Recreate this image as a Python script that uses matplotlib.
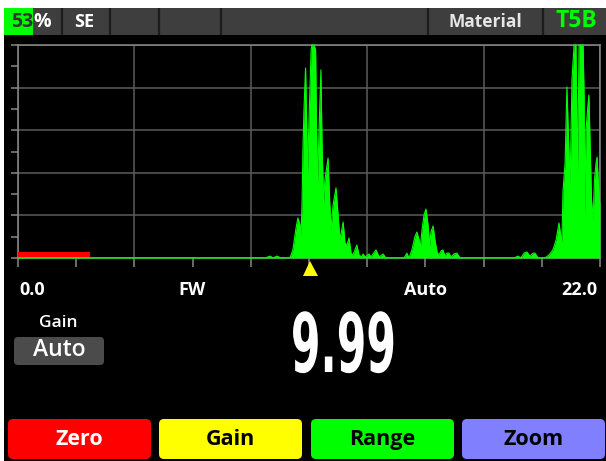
import numpy as np
import matplotlib
matplotlib.use("Agg")
import matplotlib.pyplot as plt
from matplotlib.patches import Rectangle, FancyBboxPatch
from matplotlib.patheffects import AbstractPathEffect
from matplotlib.transforms import Affine2D

# ---------------- data ----------------
x_min, x_max = 0.0, 22.0
wave_x = [0.0, 9.34, 9.53, 9.64, 9.79, 9.94, 10.28, 10.39, 10.51, 10.58,
          10.66, 10.70, 10.74, 10.77, 10.81, 10.87, 10.91, 10.94, 11.00, 11.08,
          11.11, 11.19, 11.25, 11.28, 11.32, 11.38, 11.45, 11.49, 11.55, 11.60,
          11.72, 11.78, 11.83, 11.91, 12.02, 12.10, 12.17, 12.29, 12.36, 12.44,
          12.51, 12.59, 12.66, 12.81, 12.89, 13.00, 13.04, 13.12, 13.27, 13.34,
          13.53, 13.65, 13.80, 13.91, 14.59, 14.70, 14.78, 14.89, 15.01, 15.08,
          15.16, 15.21, 15.27, 15.35, 15.42, 15.50, 15.56, 15.61, 15.69, 15.76,
          15.84, 15.91, 15.99, 16.06, 16.14, 16.21, 16.29, 16.37, 16.48, 16.59,
          16.71, 18.75, 18.90, 19.01, 19.13, 19.24, 19.35, 19.47, 19.54, 19.66,
          19.92, 20.07, 20.22, 20.34, 20.45, 20.51, 20.56, 20.60, 20.68, 20.75,
          20.81, 20.87, 20.94, 21.02, 21.09, 21.15, 21.21, 21.36, 21.40, 21.42,
          21.47, 21.53, 21.58, 21.64, 21.68, 21.74, 21.79, 21.85, 21.89, 21.92,
          21.98, 22.0]
wave_amp = [0, 0, 0.9, 0, 0.9, 0, 0, 3.8, 14.1, 18.8,
            15.5, 10.8, 27.2, 50.7, 69.5, 89.2, 64.8, 38.0, 64.8, 97.7,
            100, 100, 97.7, 64.8, 34.3, 60.1, 88.3, 55.4, 25.8, 36.6,
            46.9, 27.2, 13.1, 24.9, 32.9, 20.2, 8.5, 16.9, 7.0, 6.1,
            9.4, 2.3, 1.4, 6.1, 1.4, 0.5, 1.9, 0.5, 1.9, 0.5,
            3.8, 0.5, 1.9, 0, 0, 2.3, 0, 3.8, 10.3, 12.2,
            8.5, 4.7, 13.1, 20.2, 23.0, 15.5, 5.6, 12.2, 15.0, 8.5,
            2.8, 1.4, 3.3, 3.8, 0.9, 2.3, 2.3, 0.5, 1.9, 2.3,
            0, 0, 0.9, 0, 2.3, 2.8, 0.9, 2.3, 2.3, 0,
            0, 1.4, 3.8, 8.5, 16.4, 10.8, 7.5, 31.0, 44.6, 80.3,
            55.4, 34.3, 83.6, 100, 100, 39.9, 100, 100, 74.2, 19.2,
            60.1, 69.5, 76.5, 46.0, 27.2, 17.8, 36.6, 44.6, 47.4, 39.0,
            25.8, 25.8]
blank_end = 2.72      # red zero/blank bar end (mm)
blank_height = 2.7    # %
gate_pos = 11.02      # yellow marker position (mm)

battery_value = "53"
battery_unit = "%"
status_labels = ["SE", "Material", "T5B"]
scale_labels = ["0.0", "FW", "Auto", "22.0"]
gain_label = "Gain"
gain_value = "Auto"
reading = "9.99"
button_labels = ["Zero", "Gain", "Range", "Zoom"]
button_colors = ["#ff0000", "#ffff00", "#00ff00", "#8080ff"]
button_text_colors = ["white", "black", "black", "black"]

# ---------------- figure ----------------
W, H = 606, 461
fig = plt.figure(figsize=(W / 100, H / 100), dpi=100, facecolor="white")
FONT = "Open Sans"

bg = fig.add_axes([0, 0, 1, 1], zorder=0)
bg.set_xlim(0, W)
bg.set_ylim(H, 0)
bg.axis("off")

# screen
bg.add_patch(Rectangle((4, 8), W - 4, H - 8, color="black", lw=0))

# top status bar
bg.add_patch(Rectangle((4, 8), W - 4, 27, color="#3e3e3e", lw=0))
bg.add_patch(Rectangle((4, 8), 29, 27, color="#00ff00", lw=0))
for sx in [62, 110, 159, 221, 428, 543]:
    bg.plot([sx, sx], [8, 35], color="#1c1c1c", lw=1.6, solid_capstyle="butt")

t53 = bg.text(11, 22, battery_value, color="#333333", fontsize=14, fontweight="bold",
              family=FONT, ha="left", va="center")
bg.annotate(battery_unit, xy=(1, 0.5), xycoords=t53, color="white", fontsize=14,
            fontweight="bold", family=FONT, ha="left", va="center")
bg.text(84, 22, status_labels[0], color="white", fontsize=13, fontweight="bold",
        family=FONT, ha="center", va="center")
bg.text(485, 22, status_labels[1], color="#e6e6e6", fontsize=12.5, fontweight="bold",
        family=FONT, ha="center", va="center")
bg.text(576, 21, status_labels[2], color="#00ff00", fontsize=16.5, fontweight="bold",
        family=FONT, ha="center", va="center")

# scale labels
lab_y = 290
fs_lab = 13
bg.text(19, lab_y, scale_labels[0], color="white", fontsize=fs_lab, fontweight="bold",
        family=FONT, ha="left", va="center")
bg.text(192, lab_y, scale_labels[1], color="white", fontsize=fs_lab, fontweight="bold",
        family=FONT, ha="center", va="center")
bg.text(426, lab_y, scale_labels[2], color="white", fontsize=fs_lab, fontweight="bold",
        family=FONT, ha="center", va="center")
bg.text(597, lab_y, scale_labels[3], color="white", fontsize=fs_lab, fontweight="bold",
        family=FONT, ha="right", va="center")

# gain box
bg.text(58, 323, gain_label, color="white", fontsize=12.5, family=FONT,
        fontweight="semibold", ha="center", va="center")
bg.add_patch(FancyBboxPatch((14, 337), 90, 28,
                            boxstyle="round,pad=0,rounding_size=4",
                            fc="#4b4b4b", ec="none"))
bg.text(59, 350, gain_value, color="white", fontsize=16.5, family=FONT,
        fontweight="semibold", ha="center", va="center")


# big reading (condensed via path effect)
class Condense(AbstractPathEffect):
    def __init__(self, sx, cx_data):
        super().__init__()
        self.sx = sx
        self.cx_data = cx_data

    def draw_path(self, renderer, gc, tpath, affine, rgbFace=None):
        cx = bg.transData.transform((self.cx_data, 0))[0]
        t = affine + Affine2D().translate(-cx, 0).scale(self.sx, 1.0).translate(cx, 0)
        renderer.draw_path(gc, tpath, t, rgbFace)


big = bg.text(343.5, 372, reading, color="white", fontsize=59, fontweight="bold",
              family="DejaVu Sans", ha="center", va="baseline")
big.set_path_effects([Condense(0.52, 343.5)])

# buttons
btn_x = [8, 159, 311, 462]
for bx, lab, c, tc in zip(btn_x, button_labels, button_colors, button_text_colors):
    bg.add_patch(FancyBboxPatch((bx, 419), 143, 40,
                                boxstyle="round,pad=0,rounding_size=5",
                                fc=c, ec="none"))
    bg.text(bx + 71.5, 439, lab, color=tc, fontsize=15.5, fontweight="bold",
            family=FONT, ha="center", va="center")

# ---------------- A-scan plot ----------------
left, right, top, bottom = 18, 600, 45, 258
ax = fig.add_axes([left / W, (H - bottom) / H, (right - left) / W, (bottom - top) / H],
                  zorder=1)
ax.set_facecolor("none")
ax.set_xlim(x_min, x_max)
ax.set_ylim(0, 100)

major_x = np.linspace(x_min, x_max, 6)
ax.set_xticks(major_x)
ax.set_xticks((major_x[:-1] + major_x[1:]) / 2, minor=True)
ax.set_yticks(np.arange(0, 101, 20))
ax.set_yticks(np.arange(10, 100, 20), minor=True)
ax.tick_params(axis="x", which="both", direction="out", length=6.5, width=1.1,
               color="#8a8a8a", labelbottom=False)
ax.tick_params(axis="y", which="both", direction="out", length=5, width=1.1,
               color="#8a8a8a", labelleft=False)
ax.grid(which="major", color="#5c5c5c", lw=1.1)
ax.set_axisbelow(True)
for s in ax.spines.values():
    s.set_color("#8a8a8a")
    s.set_linewidth(1.1)

ax.fill_between(wave_x, 0, wave_amp, color="#00ff00", lw=0, zorder=3)
ax.plot(wave_x, wave_amp, color="#00ff00", lw=0.8, zorder=3, clip_on=False)
ax.add_patch(Rectangle((0, 0.3), blank_end, blank_height, color="#ff0000", lw=0,
                       zorder=4))
ax.plot([gate_pos], [-4.7], marker="^", ms=10.8, color="#ffff00", mew=0,
        clip_on=False, zorder=5)

fig.savefig("out.png", dpi=100, facecolor=fig.get_facecolor())
